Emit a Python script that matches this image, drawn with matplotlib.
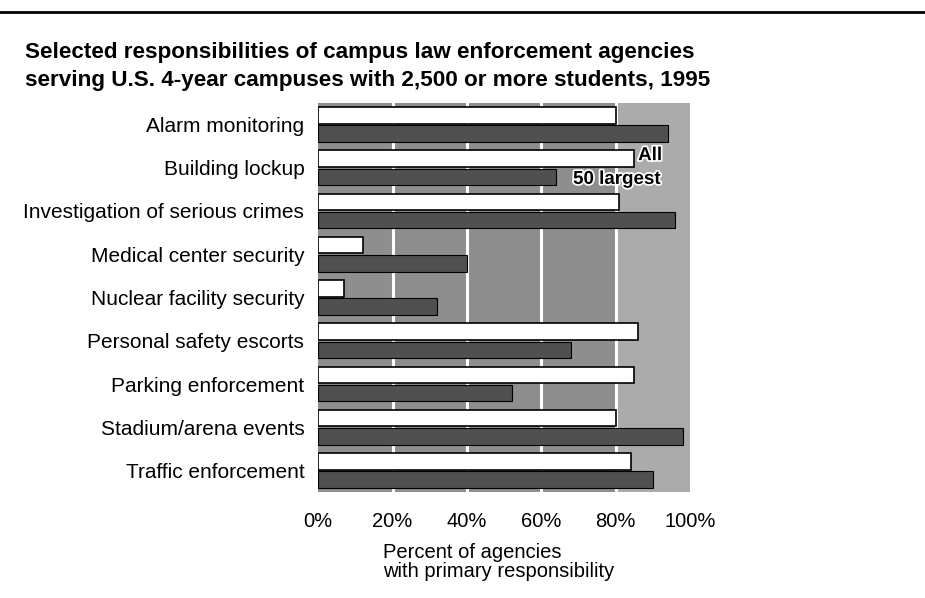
import matplotlib.pyplot as plt
import matplotlib.patheffects as pe
import numpy as np

plt.rcParams['font.family'] = ['Liberation Sans', 'DejaVu Sans']

categories = [
    "Alarm monitoring",
    "Building lockup",
    "Investigation of serious crimes",
    "Medical center security",
    "Nuclear facility security",
    "Personal safety escorts",
    "Parking enforcement",
    "Stadium/arena events",
    "Traffic enforcement",
]
all_agencies = [80, 85, 81, 12, 7, 86, 85, 80, 84]
largest_50 = [94, 64, 96, 40, 32, 68, 52, 98, 90]
tick_values = [0, 20, 40, 60, 80, 100]
tick_labels = ["0%", "20%", "40%", "60%", "80%", "100%"]
title_lines = [
    "Selected responsibilities of campus law enforcement agencies",
    "serving U.S. 4-year campuses with 2,500 or more students, 1995",
]

W, H = 925, 598
fig = plt.figure(figsize=(W / 100, H / 100), dpi=100)
ax = fig.add_axes([0.344, 0.177, 0.402, 0.651])

# stippled background, lighter beyond 80%
ax.set_facecolor('#8e8e8e')
ax.axvspan(80, 100, color='#ababab', zorder=0)
for v in tick_values[1:-1]:
    ax.axvline(v, color='white', lw=2.2, zorder=1)

y = np.arange(len(categories))
h = 0.38
ax.barh(y - h / 2 - 0.02, all_agencies, height=h, color='white',
        edgecolor='black', lw=1.2, zorder=3)
ax.barh(y + h / 2 + 0.02, largest_50, height=h, color='#505050',
        edgecolor='black', lw=0.8, zorder=3)

ax.set_ylim(len(categories) - 0.5, -0.5)
ax.set_xlim(0, 100)
ax.set_yticks(y)
ax.set_yticklabels(categories, fontsize=15)
ax.set_xticks(tick_values)
ax.set_xticklabels(tick_labels, fontsize=14.5)
ax.tick_params(axis='x', length=0, pad=14)
ax.tick_params(axis='y', length=0, pad=10)
for s in ax.spines.values():
    s.set_visible(False)

# in-chart legend labels
halo = [pe.withStroke(linewidth=2.5, foreground='white')]
ax.text(92.5, 1 - 0.28, "All", ha='right', va='center', fontsize=13.5,
        fontweight='bold', color='black', path_effects=halo, zorder=4)
ax.text(92, 1 + 0.27, "50 largest", ha='right', va='center', fontsize=13.5,
        fontweight='bold', color='black', path_effects=halo, zorder=4)

fig.text(383 / W, 1 - 562 / H,
         "Percent of agencies\nwith primary responsibility",
         ha='left', va='center', fontsize=14.5, linespacing=0.95)

for line, base in zip(title_lines, [58, 86]):
    fig.text(25 / W, 1 - base / H, line, ha='left', va='baseline',
             fontsize=16.2, fontweight='bold')

fig.add_artist(plt.Line2D([0, 1], [1 - 12 / H] * 2, color='black', lw=2))

fig.savefig('out.png', dpi=100)
